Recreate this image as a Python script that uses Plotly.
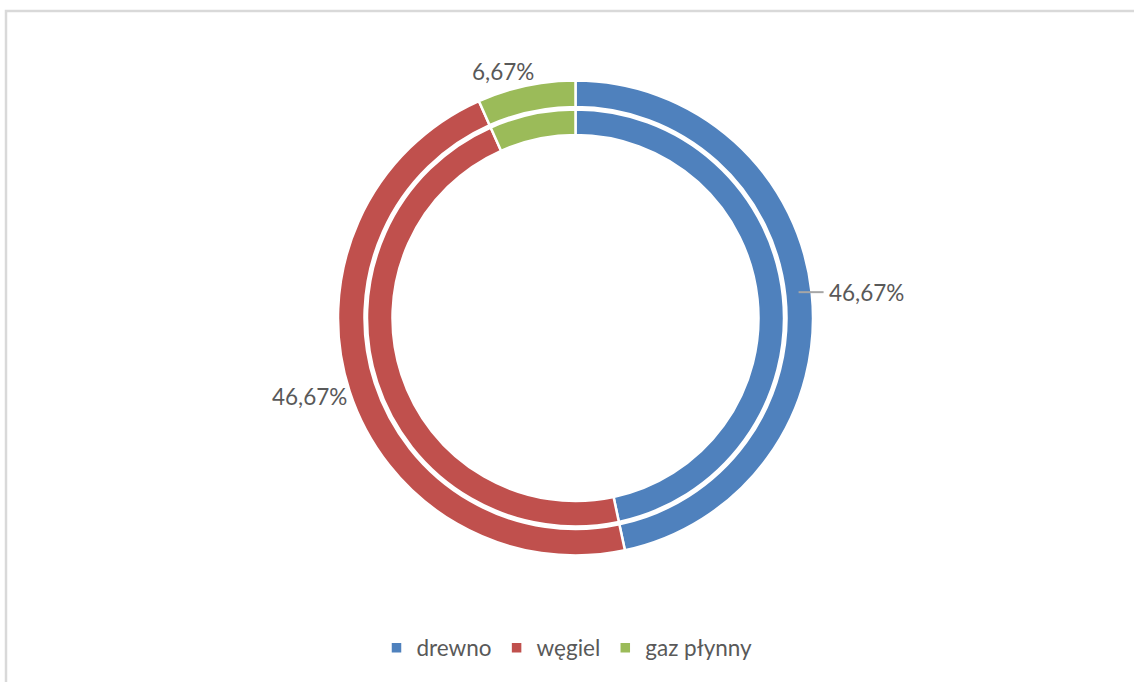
import math
import plotly.graph_objects as go

# Fuel types and their shares (%)
categories = ["drewno", "węgiel", "gaz płynny"]
shares = [46.67, 46.67, 6.67]
colors = ["#4F81BD", "#C0504D", "#9BBB59"]

W, H = 1134, 682
cx, cy = 575.5, 318.0          # ring centre in pixels (from top-left)
r_outer, r_outer_in = 237.5, 211.0
r_inner, r_inner_in = 208.5, 183.0

FONT = "Lato, 'Open Sans', sans-serif"
TXT = "#595959"
FS = 22.5


def domain(r):
    return dict(
        x=[(cx - r) / W, (cx + r) / W],
        y=[1 - (cy + r) / H, 1 - (cy - r) / H],
    )


def pct(v):
    return f"{v:.2f}".replace(".", ",") + "%"


fig = go.Figure()
for r, r_in, show in [(r_outer, r_outer_in, True), (r_inner, r_inner_in, False)]:
    fig.add_trace(go.Pie(
        labels=categories,
        values=shares,
        sort=False,
        direction="clockwise",
        rotation=0,
        hole=r_in / r,
        domain=domain(r),
        marker=dict(colors=colors, line=dict(color="white", width=2.5)),
        textinfo="none",
        hoverinfo="label+percent",
        showlegend=show,
    ))

# Data labels for the outer ring, placed from each slice's mid angle
total = sum(shares)
start = 0.0
annotations = []
shapes = []
for i, v in enumerate(shares):
    mid = (start + v / 2) / total * 2 * math.pi
    start += v
    sx, sy = math.sin(mid), -math.cos(mid)
    if i == 0:
        # label with a short leader line to the right
        y0 = cy + sy * r_outer - 1
        x_line0 = cx + math.sqrt(r_outer ** 2 - (y0 - cy) ** 2) - 13
        shapes.append(dict(type="line", xref="paper", yref="paper",
                           x0=x_line0 / W, x1=(x_line0 + 25) / W,
                           y0=1 - y0 / H, y1=1 - y0 / H,
                           line=dict(color="#A6A6A6", width=2)))
        annotations.append(dict(x=(x_line0 + 28) / W, y=1 - y0 / H,
                                xanchor="left", yanchor="middle",
                                text=pct(v)))
    elif i == 1:
        px, py = cx + sx * r_outer, cy + sy * r_outer
        annotations.append(dict(x=(px - 1) / W, y=1 - (py + 5) / H,
                                xanchor="right", yanchor="middle",
                                text=pct(v)))
    else:
        px, py = cx + sx * r_outer, cy + sy * r_outer
        annotations.append(dict(x=(px - 23) / W, y=1 - (py - 14) / H,
                                xanchor="center", yanchor="middle",
                                text=pct(v)))

for a in annotations:
    a.update(showarrow=False, font=dict(family=FONT, size=FS, color=TXT))

# Chart area frame
shapes.append(dict(type="rect", xref="paper", yref="paper",
                   x0=6 / W, x1=1.02, y0=-0.02, y1=1 - 11 / H,
                   line=dict(color="#D9D9D9", width=2.5),
                   fillcolor="rgba(0,0,0,0)", layer="below"))

fig.update_layout(
    width=W, height=H,
    margin=dict(l=0, r=0, t=0, b=0),
    paper_bgcolor="white",
    plot_bgcolor="white",
    annotations=annotations,
    shapes=shapes,
    legend=dict(orientation="h", x=0.5, xanchor="center",
                y=1 - 648 / H, yanchor="middle",
                font=dict(family=FONT, size=FS, color=TXT),
                itemwidth=30, tracegroupgap=0),
)

fig.write_html("out.html")
